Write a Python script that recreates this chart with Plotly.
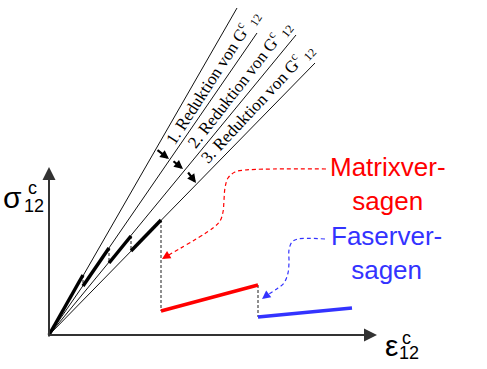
import plotly.graph_objects as go

# ---- data (strain on x, stress on y; origin of the diagram at 0,0) ----
# fan of secant lines after each reduction of G12
fan_tip_strain = [188, 208, 247, 266]
fan_tip_stress = [327, 302, 300, 272]

# thick loading segments on each secant line
seg_strain_start = [0, 34, 60, 82]
seg_stress_start = [0, 49, 72, 84]
seg_strain_end = [34, 60, 82, 112]
seg_stress_end = [60, 87, 99, 115]

# load drops (dashed verticals)
drop_strain = [34, 60, 82, 112, 209]
drop_stress_top = [60, 87, 99, 115, 50]
drop_stress_bottom = [49, 72, 84, 24, 18]

# matrix failure branch (red) and fibre failure branch (blue)
matrix_strain = [112, 209]
matrix_stress = [24, 50]
fiber_strain = [209, 303]
fiber_stress = [18, 27]

# callout leader paths
matrix_call_x = [277, 196, 186, 179, 176, 175, 174, 171, 164, 118]
matrix_call_y = [166, 165, 163, 157, 147, 135, 123, 114, 107, 79]
matrix_tip = (113, 76)
fiber_call_x = [276, 249, 243, 240, 240, 239, 235, 229, 217]
fiber_call_y = [96, 96, 93, 85, 73, 62, 52, 47, 39]
fiber_tip = (213, 36)

# small arrows between the secant lines
arrow_tail_x = [107, 123, 138]
arrow_tail_y = [186, 175, 164]
arrow_head_x = [120, 134, 147]
arrow_head_y = [176, 166, 152]

# rotated labels
label_texts = ["1. Reduktion von G<sup>c</sup> <sub>12</sub>",
               "2. Reduktion von G<sup>c</sup> <sub>12</sub>",
               "3. Reduktion von G<sup>c</sup> <sub>12</sub>"]
label_x = [163, 190, 208]
label_y = [258, 251, 232]
label_angle = [-57, -52, -47]

axis_y_top = 168
axis_x_end = 328

RED = "#ff0000"
BLUE = "#3333ff"

fig = go.Figure()

# fan lines
fx, fy = [], []
for sx, sy in zip(fan_tip_strain, fan_tip_stress):
    fx += [0, sx, None]
    fy += [0, sy, None]
fig.add_trace(go.Scatter(x=fx, y=fy, mode="lines",
                         line=dict(color="#111111", width=1), hoverinfo="skip"))

# drops
dx, dy = [], []
for x, t, b in zip(drop_strain, drop_stress_top, drop_stress_bottom):
    dx += [x, x, None]
    dy += [t, b, None]
fig.add_trace(go.Scatter(x=dx, y=dy, mode="lines",
                         line=dict(color="#444444", width=1.2, dash="3px,2px"), hoverinfo="skip"))

# thick segments
sx_, sy_ = [], []
for a, b, c, d in zip(seg_strain_start, seg_stress_start, seg_strain_end, seg_stress_end):
    sx_ += [a, c, None]
    sy_ += [b, d, None]
fig.add_trace(go.Scatter(x=sx_, y=sy_, mode="lines",
                         line=dict(color="#000000", width=3.5), hoverinfo="skip"))

fig.add_trace(go.Scatter(x=matrix_strain, y=matrix_stress, mode="lines",
                         line=dict(color=RED, width=3.5), hoverinfo="skip"))
fig.add_trace(go.Scatter(x=fiber_strain, y=fiber_stress, mode="lines",
                         line=dict(color=BLUE, width=3.5), hoverinfo="skip"))

# callout paths
fig.add_trace(go.Scatter(x=matrix_call_x, y=matrix_call_y, mode="lines",
                         line=dict(color=RED, width=1.2, dash="4px,3px", shape="spline"),
                         hoverinfo="skip"))
fig.add_trace(go.Scatter(x=fiber_call_x, y=fiber_call_y, mode="lines",
                         line=dict(color=BLUE, width=1.2, dash="4px,3px", shape="spline"),
                         hoverinfo="skip"))

ann = []
# axes with arrows
ann.append(dict(x=0, y=axis_y_top, ax=0, ay=-3, xref="x", yref="y", axref="x", ayref="y",
                showarrow=True, arrowhead=2, arrowsize=1.3, arrowwidth=2, arrowcolor="#333333",
                text="", standoff=0))
ann.append(dict(x=axis_x_end, y=0, ax=-1, ay=0, xref="x", yref="y", axref="x", ayref="y",
                showarrow=True, arrowhead=2, arrowsize=1.3, arrowwidth=2, arrowcolor="#333333",
                text="", standoff=0))
# callout arrowheads
ann.append(dict(x=matrix_tip[0], y=matrix_tip[1], ax=matrix_call_x[-1], ay=matrix_call_y[-1],
                xref="x", yref="y", axref="x", ayref="y", showarrow=True, arrowhead=2,
                arrowsize=1.4, arrowwidth=1.2, arrowcolor=RED, text="", standoff=0))
ann.append(dict(x=fiber_tip[0], y=fiber_tip[1], ax=fiber_call_x[-1], ay=fiber_call_y[-1],
                xref="x", yref="y", axref="x", ayref="y", showarrow=True, arrowhead=2,
                arrowsize=1.4, arrowwidth=1.2, arrowcolor=BLUE, text="", standoff=0))
# small black arrows
for tx, ty, hx, hy in zip(arrow_tail_x, arrow_tail_y, arrow_head_x, arrow_head_y):
    ann.append(dict(x=hx, y=hy, ax=tx, ay=ty, xref="x", yref="y", axref="x", ayref="y",
                    showarrow=True, arrowhead=2, arrowsize=0.8, arrowwidth=2.2,
                    arrowcolor="#000000", text="", standoff=0))
# rotated labels
for t, x, y, a in zip(label_texts, label_x, label_y, label_angle):
    ann.append(dict(x=x, y=y, xref="x", yref="y", text=t, textangle=a, showarrow=False,
                    font=dict(family="Liberation Serif", size=17, color="#000000"),
                    xanchor="center", yanchor="middle"))
# failure texts
ann.append(dict(x=339, y=151, xref="x", yref="y", text="Matrixver-<br>sagen", showarrow=False,
                align="center", font=dict(family="Liberation Sans", size=26, color=RED)))
ann.append(dict(x=337, y=82, xref="x", yref="y", text="Faserver-<br>sagen", showarrow=False,
                align="center", font=dict(family="Liberation Sans", size=26, color=BLUE)))
# axis titles
ann.append(dict(x=-26, y=138, xref="x", yref="y", text="σ", showarrow=False, borderpad=0,
                xanchor="right",
                font=dict(family="Liberation Sans", size=30, color="#000000")))
ann.append(dict(x=-22, y=147, xref="x", yref="y", text="c", showarrow=False, borderpad=0,
                xanchor="left",
                font=dict(family="Liberation Sans", size=18, color="#000000")))
ann.append(dict(x=-26, y=129, xref="x", yref="y", text="12", showarrow=False, borderpad=0,
                xanchor="left",
                font=dict(family="Liberation Sans", size=18, color="#000000")))
ann.append(dict(x=350, y=-10, xref="x", yref="y", text="ε", showarrow=False, borderpad=0,
                xanchor="right",
                font=dict(family="Liberation Sans", size=30, color="#000000")))
ann.append(dict(x=352, y=-3, xref="x", yref="y", text="c", showarrow=False, borderpad=0,
                xanchor="left",
                font=dict(family="Liberation Sans", size=18, color="#000000")))
ann.append(dict(x=349, y=-18, xref="x", yref="y", text="12", showarrow=False, borderpad=0,
                xanchor="left",
                font=dict(family="Liberation Sans", size=18, color="#000000")))

fig.update_layout(
    width=487, height=369,
    margin=dict(l=0, r=0, t=0, b=0),
    paper_bgcolor="white", plot_bgcolor="white",
    showlegend=False,
    xaxis=dict(range=[-49, 438], visible=False, fixedrange=True),
    yaxis=dict(range=[-34, 335], visible=False, fixedrange=True),
    annotations=ann,
)

fig.write_html("out.html", config={"displayModeBar": False},
               post_script="document.body.style.margin='0px';")
